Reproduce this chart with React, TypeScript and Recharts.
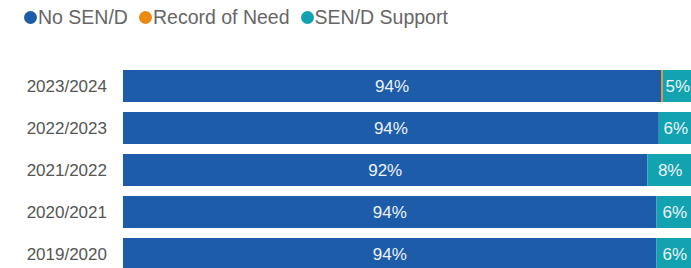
import { BarChart, Bar, XAxis, YAxis, LabelList } from 'recharts';

const years = ['2023/2024', '2022/2023', '2021/2022', '2020/2021', '2019/2020'];
const noSend = [94.4, 94.0, 92.0, 93.6, 93.6];
const recordOfNeed = [0.3, 0, 0, 0, 0];
const sendSupport = [5.3, 6.0, 8.0, 6.4, 6.4];

const seriesNames = ['No SEN/D', 'Record of Need', 'SEN/D Support'];
const seriesColors = ['#1d5ca9', '#ea8a12', '#12a2b0'];

const data = years.map((year, i) => ({
  year,
  [seriesNames[0]]: noSend[i],
  [seriesNames[1]]: recordOfNeed[i],
  [seriesNames[2]]: sendSupport[i],
}));

const FONT = '"Liberation Sans", Arial, sans-serif';

const ChartLegend = () => (
  <div
    style={{
      position: 'absolute',
      top: 6,
      left: 24,
      display: 'flex',
      alignItems: 'center',
      fontFamily: FONT,
      fontSize: 19.5,
      color: '#666',
      zIndex: 2,
    }}
  >
    {seriesNames.map((name, i) => (
      <div key={name} style={{ display: 'flex', alignItems: 'center', marginRight: 11 }}>
        <span
          style={{
            display: 'inline-block',
            width: 13,
            height: 13,
            borderRadius: '50%',
            background: seriesColors[i],
            marginRight: 1,
          }}
        />
        <span>{name}</span>
      </div>
    ))}
  </div>
);

const renderValue = (props: any) => {
  const { x, y, width, height, value } = props;
  if (value == null || value < 1) return null;
  return (
    <text
      x={x + width / 2}
      y={y + height / 2}
      textAnchor="middle"
      dominantBaseline="central"
      fill="#eef3f8"
      fontSize={17}
      fontFamily={FONT}
    >
      {`${Math.round(value)}%`}
    </text>
  );
};

export default function App() {
  return (
    <div style={{ position: 'absolute', left: 0, top: 0, width: 691, height: 268, overflow: 'hidden', background: '#fff' }}>
      <ChartLegend />
      <BarChart
        width={693}
        height={275}
        data={data}
        layout="vertical"
        margin={{ top: 65, right: 0, bottom: 0, left: 0 }}
      >
        <XAxis type="number" domain={[0, 100]} hide />
        <YAxis
          type="category"
          dataKey="year"
          width={123}
          axisLine={false}
          tickLine={false}
          tickSize={0}
          tickMargin={16}
          tick={{ fill: '#555', fontSize: 17, fontFamily: FONT }}
        />
        {seriesNames.map((name, i) => (
          <Bar key={name} dataKey={name} stackId="a" fill={seriesColors[i]} barSize={32} isAnimationActive={false}>
            <LabelList dataKey={name} content={renderValue} />
          </Bar>
        ))}
      </BarChart>
    </div>
  );
}
